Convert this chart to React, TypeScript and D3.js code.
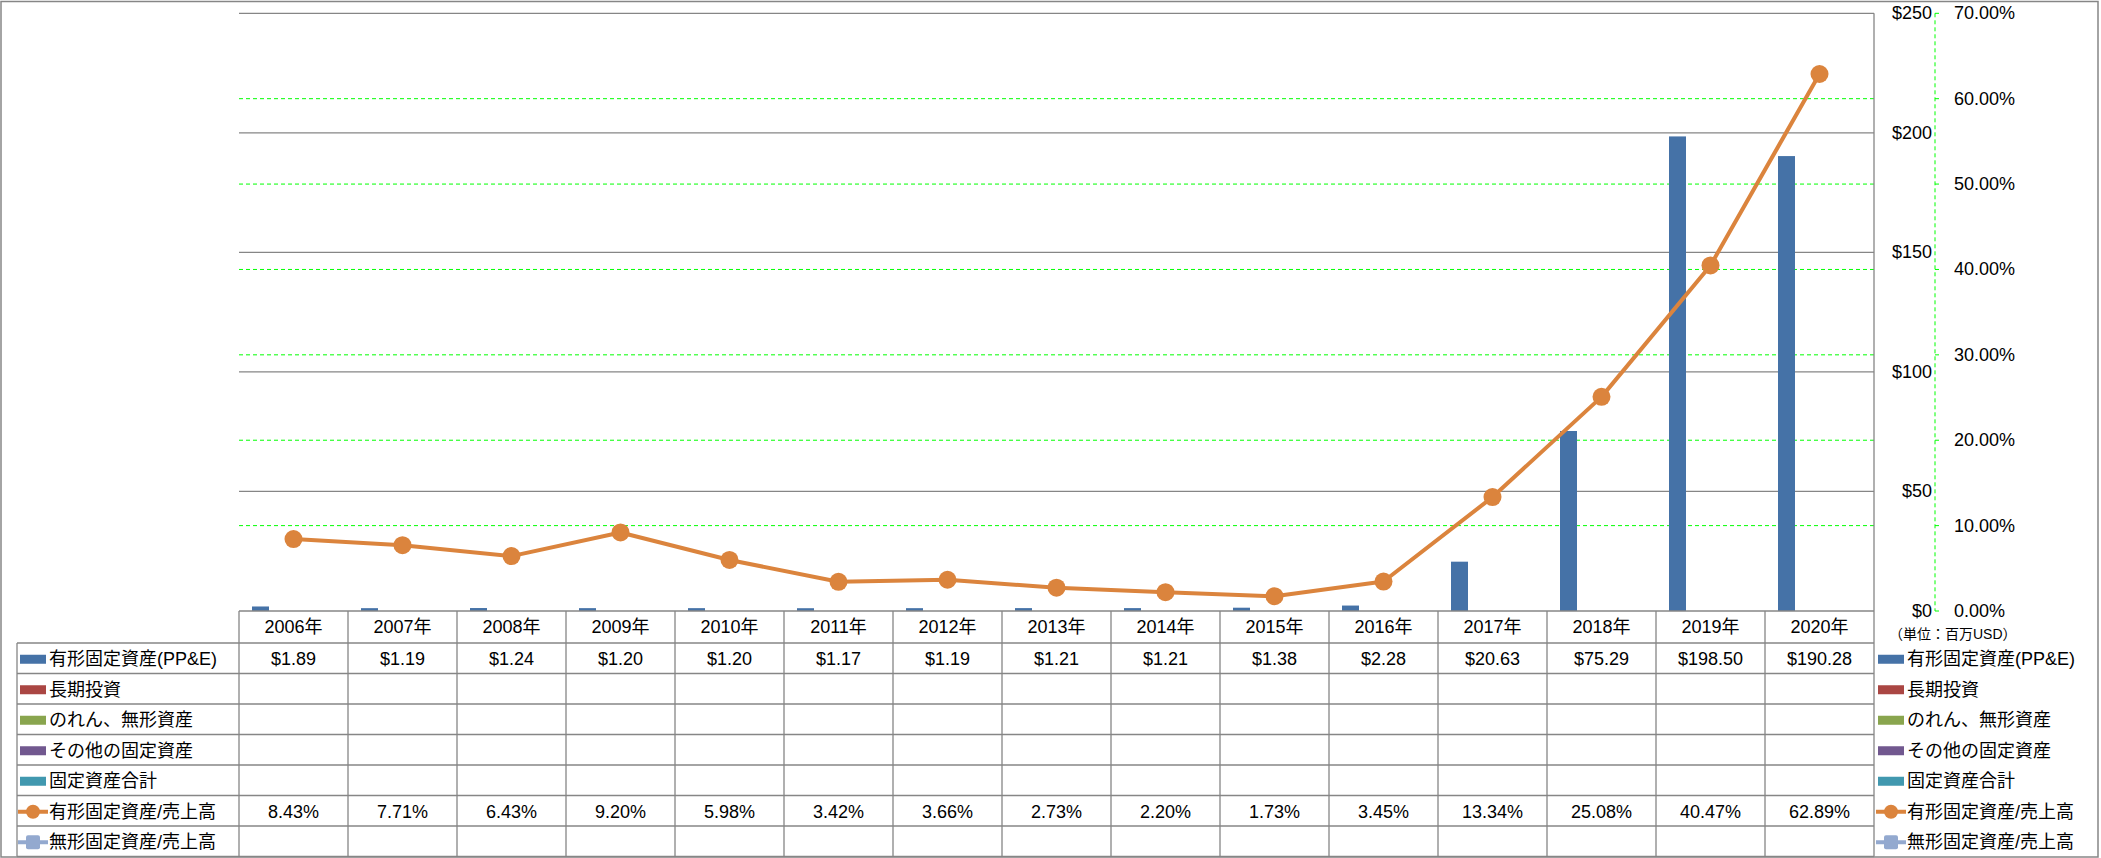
import React, { useEffect } from "react";
import * as d3 from "d3";

const years = ["2006年","2007年","2008年","2009年","2010年","2011年","2012年","2013年","2014年","2015年","2016年","2017年","2018年","2019年","2020年"];
const ppe = [1.89,1.19,1.24,1.20,1.20,1.17,1.19,1.21,1.21,1.38,2.28,20.63,75.29,198.50,190.28];
const ppeRatio = [8.43,7.71,6.43,9.20,5.98,3.42,3.66,2.73,2.20,1.73,3.45,13.34,25.08,40.47,62.89];
const barSeries = ["有形固定資産(PP&E)","長期投資","のれん、無形資産","その他の固定資産","固定資産合計"];
const lineSeries = ["有形固定資産/売上高","無形固定資産/売上高"];
const usdTicks = [0,50,100,150,200,250];
const pctTicks = [0,10,20,30,40,50,60,70];
const unitLabel = "（単位：百万USD）";

const colors = ["#4572A7","#AA4643","#89A54E","#71588F","#4198AF"];
const lineColors = ["#DB843D","#93A9CF"];

const W = 2101, H = 858;
const PL = 239, PR = 1874, PT = 13.3, PB = 611;
const TB = 856.5;
const FONT = "'Liberation Sans', 'Noto Sans CJK JP', sans-serif";
const GRAY = "#868686";

export default function App() {
  useEffect(() => { document.body.style.margin = "0"; }, []);
  const x = d3.scaleBand<string>().domain(years).range([PL, PR]).padding(0);
  const x1 = d3.scaleBand<string>().domain(barSeries).range([13, 98]).padding(0);
  const y = d3.scaleLinear().domain([0, 250]).range([PB, PT]);
  const y2 = d3.scaleLinear().domain([0, 70]).range([PB, PT]);
  const rows = [...barSeries, ...lineSeries];
  const rowH = (TB - 643) / rows.length;
  const rowY = (i: number) => 643 + i * rowH;
  const bw = x.bandwidth();
  const line = d3.line<number>().x((_, i) => x(years[i])! + bw / 2).y(d => y2(d));

  const legendKey = (i: number, kx: number, cy: number) => {
    if (i < barSeries.length) {
      return <rect x={kx} y={cy - 4.5} width={26} height={9} fill={colors[i]} />;
    }
    const c = lineColors[i - barSeries.length];
    return (
      <g>
        <line x1={kx - 2} x2={kx + 28} y1={cy} y2={cy} stroke={c} strokeWidth={4} />
        {i === barSeries.length ? (
          <circle cx={kx + 13} cy={cy} r={7} fill={c} />
        ) : (
          <rect x={kx + 6} y={cy - 7} width={14} height={14} rx={2} fill={c} />
        )}
      </g>
    );
  };

  return (
    <svg width={W} height={H} style={{ position: "absolute", left: 0, top: 0, display: "block" }} fontFamily={FONT}>
      <rect x={0} y={0} width={W} height={H} fill="#fff" />
      <rect x={1} y={1.5} width={2097} height={855.5} fill="none" stroke={GRAY} strokeWidth={1.5} />
      {/* gray gridlines for USD axis */}
      {usdTicks.filter(t => t > 0).map(t => (
        <line key={"g" + t} x1={PL} x2={PR} y1={y(t)} y2={y(t)} stroke={GRAY} strokeWidth={1.3} />
      ))}
      {/* green dashed gridlines for % axis */}
      {pctTicks.filter(t => t > 0 && t < 70).map(t => (
        <line key={"p" + t} x1={PL} x2={PR} y1={y2(t)} y2={y2(t)} stroke="#00FF00" strokeWidth={1} strokeDasharray="4,3" />
      ))}
      {/* right border of plot / table */}
      <line x1={PR} x2={PR} y1={PT} y2={TB} stroke={GRAY} strokeWidth={1.3} />
      {/* bars */}
      {ppe.map((v, i) => (
        <rect key={"b" + i} x={x(years[i])! + x1(barSeries[0])!} y={y(v)} width={x1.bandwidth()} height={PB - y(v)} fill={colors[0]} />
      ))}
      {/* line */}
      <path d={line(ppeRatio) || ""} fill="none" stroke={lineColors[0]} strokeWidth={4} strokeLinejoin="round" />
      {ppeRatio.map((v, i) => (
        <circle key={"c" + i} cx={x(years[i])! + bw / 2} cy={y2(v)} r={9} fill={lineColors[0]} />
      ))}
      {/* right axes */}
      {usdTicks.map(t => (
        <text key={"u" + t} x={1932} y={y(t)} textAnchor="end" dominantBaseline="central" fontSize={18} fill="#000">{"$" + t}</text>
      ))}
      <line x1={1935} x2={1935} y1={PT} y2={PB} stroke="#00FF00" strokeWidth={1} strokeDasharray="4,3" />
      {pctTicks.map(t => (
        <g key={"pt" + t}>
          <line x1={1935} x2={1939} y1={y2(t)} y2={y2(t)} stroke="#00FF00" strokeWidth={1} />
          <text x={1954} y={y2(t)} dominantBaseline="central" fontSize={18} fill="#000">{t.toFixed(2) + "%"}</text>
        </g>
      ))}
      <text x={1889} y={634} dominantBaseline="central" fontSize={14} fill="#000">{unitLabel}</text>
      {/* data table */}
      <line x1={PL} x2={PR} y1={PB} y2={PB} stroke={GRAY} strokeWidth={1.3} />
      {rows.map((_, i) => (
        <line key={"rl" + i} x1={17} x2={PR} y1={rowY(i)} y2={rowY(i)} stroke={GRAY} strokeWidth={1.3} />
      ))}
      <line x1={17} x2={PR} y1={TB} y2={TB} stroke={GRAY} strokeWidth={1.3} />
      <line x1={17} x2={17} y1={643} y2={TB} stroke={GRAY} strokeWidth={1.3} />
      {years.map((yr, i) => (
        <line key={"vl" + i} x1={x(yr)!} x2={x(yr)!} y1={PB} y2={TB} stroke={GRAY} strokeWidth={1.3} />
      ))}
      {years.map((yr, i) => (
        <text key={"yr" + i} x={x(yr)! + bw / 2} y={627} textAnchor="middle" dominantBaseline="central" fontSize={18} fill="#000">{yr}</text>
      ))}
      {ppe.map((v, i) => (
        <text key={"tv" + i} x={x(years[i])! + bw / 2} y={rowY(0) + rowH / 2 + 1} textAnchor="middle" dominantBaseline="central" fontSize={18} fill="#000">{"$" + v.toFixed(2)}</text>
      ))}
      {ppeRatio.map((v, i) => (
        <text key={"tp" + i} x={x(years[i])! + bw / 2} y={rowY(5) + rowH / 2 + 1} textAnchor="middle" dominantBaseline="central" fontSize={18} fill="#000">{v.toFixed(2) + "%"}</text>
      ))}
      {rows.map((name, i) => {
        const cy = rowY(i) + rowH / 2 + 1;
        return (
          <g key={"lg" + i}>
            {legendKey(i, 20, cy)}
            <text x={49} y={cy} dominantBaseline="central" fontSize={18} fill="#000">{name}</text>
            {legendKey(i, 1878, cy)}
            <text x={1907} y={cy} dominantBaseline="central" fontSize={18} fill="#000">{name}</text>
          </g>
        );
      })}
    </svg>
  );
}
